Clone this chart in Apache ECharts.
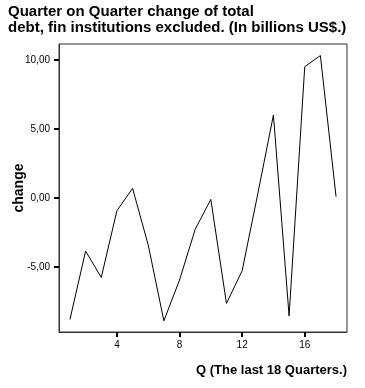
<!DOCTYPE html>
<html>
<head>
<meta charset="utf-8">
<script src="https://cdn.jsdelivr.net/npm/echarts@6/dist/echarts.min.js"></script>
<style>html,body{margin:0;padding:0;background:#fff;}#c{width:365px;height:388px;}</style>
</head>
<body>
<div id="c"></div>
<script>
var quarters = [1,2,3,4,5,6,7,8,9,10,11,12,13,14,15,16,17,18];
var changes = [-8.79,-3.84,-5.75,-0.92,0.70,-3.40,-8.89,-5.94,-2.27,-0.10,-7.63,-5.27,0.30,6.01,-8.53,9.51,10.31,0.10];
var xTicks = [4,8,12,16];
var yTicks = [-5,0,5,10];
var titleText = 'Quarter on Quarter change of total\ndebt, fin institutions excluded. (In billions US$.)';
var xName = 'Q (The last 18 Quarters.)';
var yName = 'change';

var chart = echarts.init(document.getElementById('c'), null, {renderer:'canvas'});
var ff = 'Liberation Sans, Arial, sans-serif';
chart.setOption({
  animation: false,
  title: [
    {text: titleText, left: 8, top: 4, padding: 0, textStyle: {fontFamily: ff, fontSize: 15, fontWeight: 'bold', color: '#000', lineHeight: 16}},
    {text: xName, right: 18, top: 364, padding: 0, textStyle: {fontFamily: ff, fontSize: 13, fontWeight: 'bold', color: '#000'}}
  ],
  grid: {left: 59, top: 44, right: 18, bottom: 56, containLabel: false, outerBoundsMode: 'none',
    show: true, borderColor: '#333', borderWidth: 1, backgroundColor: '#fff'},
  xAxis: {
    type: 'value', min: 0.3, max: 18.7,
    axisLine: {show: true, onZero: false, lineStyle: {color: '#333', width: 1}},
    splitLine: {show: false},
    axisTick: {show: true, customValues: xTicks, length: 5, lineStyle: {color: '#000', width: 2}},
    axisLabel: {customValues: xTicks, fontFamily: ff, fontSize: 10, color: '#000', margin: 8}
  },
  yAxis: {
    type: 'value', min: -9.7, max: 11.15,
    name: yName, nameLocation: 'middle', nameGap: 33, nameRotate: 90, nameMoveOverlap: false,
    nameTextStyle: {fontFamily: ff, fontSize: 14, fontWeight: 'bold', color: '#000'},
    axisLine: {show: true, onZero: false, lineStyle: {color: '#333', width: 1}},
    splitLine: {show: false},
    axisTick: {show: true, customValues: yTicks, length: 5, lineStyle: {color: '#000', width: 2}},
    axisLabel: {customValues: yTicks, fontFamily: ff, fontSize: 10, color: '#000', margin: 9,
      formatter: function(v){ return v.toFixed(2).replace('.', ','); }}
  },
  series: [{
    type: 'line',
    data: quarters.map(function(q, i){ return [q, changes[i]]; }),
    showSymbol: false,
    lineStyle: {color: '#000', width: 1},
    silent: true
  }]
});
</script>
</body>
</html>
